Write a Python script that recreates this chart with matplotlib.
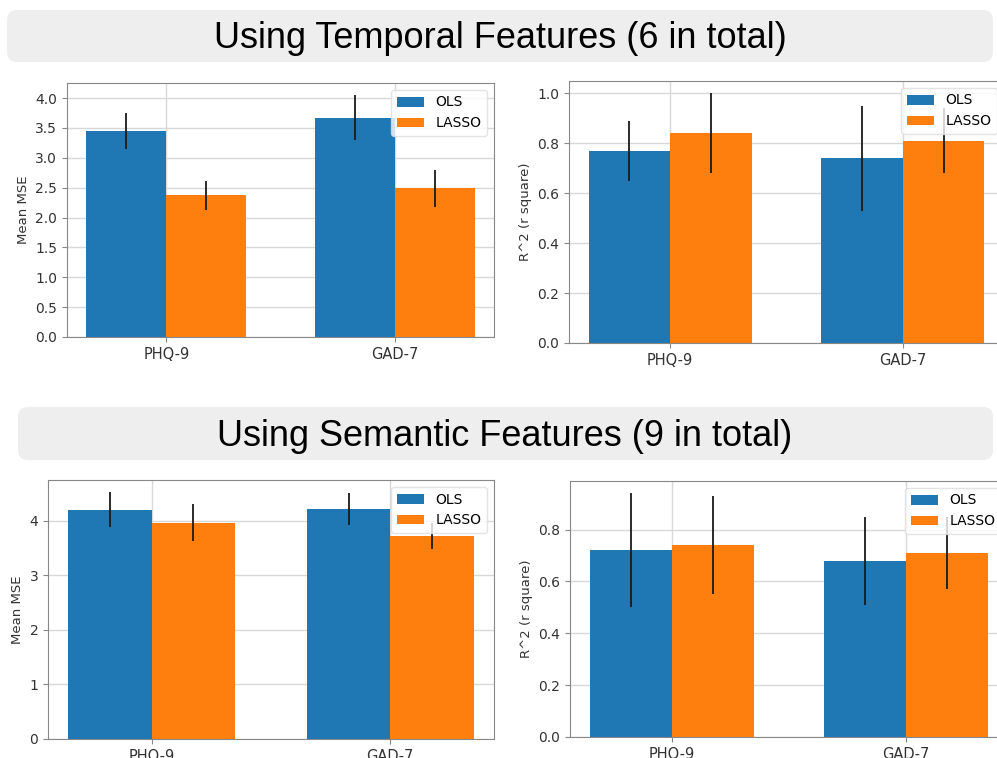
import matplotlib
matplotlib.use('Agg')
import matplotlib.pyplot as plt
from matplotlib.patches import FancyBboxPatch
import numpy as np

categories = ['PHQ-9', 'GAD-7']
series_names = ['OLS', 'LASSO']

# Temporal features (6 in total)
temporal_mse_ols = [3.45, 3.67]
temporal_mse_ols_err = [0.30, 0.38]
temporal_mse_lasso = [2.37, 2.49]
temporal_mse_lasso_err = [0.25, 0.31]

temporal_r2_ols = [0.77, 0.74]
temporal_r2_ols_err = [0.12, 0.21]
temporal_r2_lasso = [0.84, 0.81]
temporal_r2_lasso_err = [0.16, 0.13]

# Semantic features (9 in total)
semantic_mse_ols = [4.20, 4.22]
semantic_mse_ols_err = [0.32, 0.29]
semantic_mse_lasso = [3.96, 3.72]
semantic_mse_lasso_err = [0.34, 0.24]

semantic_r2_ols = [0.72, 0.68]
semantic_r2_ols_err = [0.22, 0.17]
semantic_r2_lasso = [0.74, 0.71]
semantic_r2_lasso_err = [0.19, 0.14]

titles = ['Using Temporal Features (6 in total)', 'Using Semantic Features (9 in total)']

W, H = 997, 758
fig = plt.figure(figsize=(W / 100, H / 100), dpi=100)


def px_axes(left, top, right, bottom):
    return fig.add_axes([left / W, 1 - bottom / H, (right - left) / W, (bottom - top) / H])


def draw_panel(ax, ols, ols_err, lasso, lasso_err, ylabel):
    x = np.arange(len(categories))
    width = 0.35
    ax.bar(x - width / 2, ols, width, yerr=ols_err, color='#1f77b4', label=series_names[0],
           error_kw=dict(ecolor='#1a1a1a', elinewidth=1.3, capsize=0), zorder=2)
    ax.bar(x + width / 2, lasso, width, yerr=lasso_err, color='#ff7f0e', label=series_names[1],
           error_kw=dict(ecolor='#1a1a1a', elinewidth=1.3, capsize=0), zorder=2)
    ax.set_xticks(x)
    ax.set_xticklabels(categories)
    ax.set_ylabel(ylabel, fontsize=9.5, color='#333333')
    ax.grid(True, color='#d8d8d8', linewidth=1.0, zorder=0)
    ax.set_axisbelow(True)
    ax.tick_params(axis='y', labelsize=10, colors='#333333', length=3.5)
    ax.tick_params(axis='x', labelsize=10.5, colors='#333333', length=3.5)
    ax.tick_params(color='#888888')
    for s in ax.spines.values():
        s.set_color('#888888')
    leg = ax.legend(loc='upper right', fontsize=10, fancybox=True, framealpha=0.8)
    leg.get_frame().set_edgecolor('#dddddd')


# banners
bg = fig.add_axes([0, 0, 1, 1], zorder=-1)
bg.set_xlim(0, W)
bg.set_ylim(H, 0)
bg.axis('off')
bg.add_patch(FancyBboxPatch((7, 10), 986, 52, boxstyle='round,pad=0,rounding_size=10',
                            fc='#eeeeee', ec='none'))
bg.add_patch(FancyBboxPatch((18, 407), 975, 53, boxstyle='round,pad=0,rounding_size=10',
                            fc='#eeeeee', ec='none'))
bg.text(500, 38, titles[0], ha='center', va='center', fontsize=26,
        family='Liberation Sans', color='black')
bg.text(505, 436, titles[1], ha='center', va='center', fontsize=26,
        family='Liberation Sans', color='black')

ax1 = px_axes(67, 83, 494, 337)
draw_panel(ax1, temporal_mse_ols, temporal_mse_ols_err, temporal_mse_lasso, temporal_mse_lasso_err, 'Mean MSE')
ax2 = px_axes(569, 81, 1004, 343)
draw_panel(ax2, temporal_r2_ols, temporal_r2_ols_err, temporal_r2_lasso, temporal_r2_lasso_err, 'R^2 (r square)')
ax3 = px_axes(48, 480, 494, 739)
draw_panel(ax3, semantic_mse_ols, semantic_mse_ols_err, semantic_mse_lasso, semantic_mse_lasso_err, 'Mean MSE')
ax4 = px_axes(570, 481, 1008, 737)
draw_panel(ax4, semantic_r2_ols, semantic_r2_ols_err, semantic_r2_lasso, semantic_r2_lasso_err, 'R^2 (r square)')

fig.savefig('out.png', dpi=100)
